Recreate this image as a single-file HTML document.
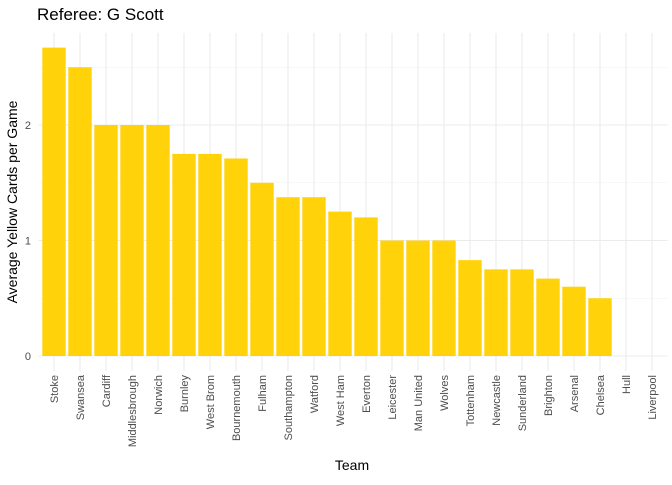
<!DOCTYPE html>
<html><head><meta charset="utf-8"><style>
body{margin:0;background:#fff;font-family:"Liberation Sans",sans-serif}
svg text{font-family:"Liberation Sans",sans-serif}
</style></head><body>
<svg id="chart" width="672" height="480">
<text x="37" y="20" font-size="17" fill="#000">Referee: G Scott</text>
<g id="grid"></g><g id="bars"></g><g id="xlab"></g><g id="ylab"></g>
<text x="352" y="470" font-size="14" text-anchor="middle" fill="#000">Team</text>
<text transform="translate(17,202) rotate(-90)" font-size="14" text-anchor="middle" fill="#000">Average Yellow Cards per Game</text>
</svg>
<script>
const teams=["Stoke","Swansea","Cardiff","Middlesbrough","Norwich","Burnley","West Brom","Bournemouth","Fulham","Southampton","Watford","West Ham","Everton","Leicester","Man United","Wolves","Tottenham","Newcastle","Sunderland","Brighton","Arsenal","Chelsea","Hull","Liverpool"];
const values=[2.67,2.5,2,2,2,1.75,1.75,1.71,1.5,1.375,1.375,1.25,1.2,1,1,1,0.83,0.75,0.75,0.67,0.6,0.5,0,0];
const yTicks=[0,1,2];
const yMinor=[0.5,1.5,2.5];
const NS="http://www.w3.org/2000/svg";
const left=38.4,right=667.6,n=teams.length,step=(right-left)/(n+0.2);
const x=i=>left+step*(0.6+i);
const y=v=>356-v*115.5;
function mk(t,a,p){const e=document.createElementNS(NS,t);for(const k in a)e.setAttribute(k,a[k]);p.appendChild(e);return e;}
const g=document.getElementById('grid');
yMinor.forEach(v=>{const l=mk('line',{x1:left,x2:right,y1:y(v),y2:y(v),stroke:'#f2f2f2','stroke-width':0.6},g);

});
yTicks.forEach(v=>{const l=mk('line',{x1:left,x2:right,y1:y(v),y2:y(v),stroke:'#ebebeb','stroke-width':1.1},g);


const t=mk('text',{x:31,y:y(v)+4,'font-size':11,'text-anchor':'end',fill:'#4d4d4d'},document.getElementById('ylab'));t.textContent=v;

});
teams.forEach((tm,i)=>{const l=mk('line',{x1:x(i),x2:x(i),y1:33,y2:371,stroke:'#ebebeb','stroke-width':1.1},g);

});
const bw=step*0.9;
teams.forEach((tm,i)=>{const r=mk('rect',{x:x(i)-bw/2,y:y(values[i]),width:bw,height:values[i]*115.5,fill:'#FFD20A'},document.getElementById('bars'));


const t=mk('text',{transform:`translate(${x(i)+4},375) rotate(-90)`,'font-size':11,'text-anchor':'end',fill:'#4d4d4d'},document.getElementById('xlab'));t.textContent=tm;

});
</script>
</body></html>
